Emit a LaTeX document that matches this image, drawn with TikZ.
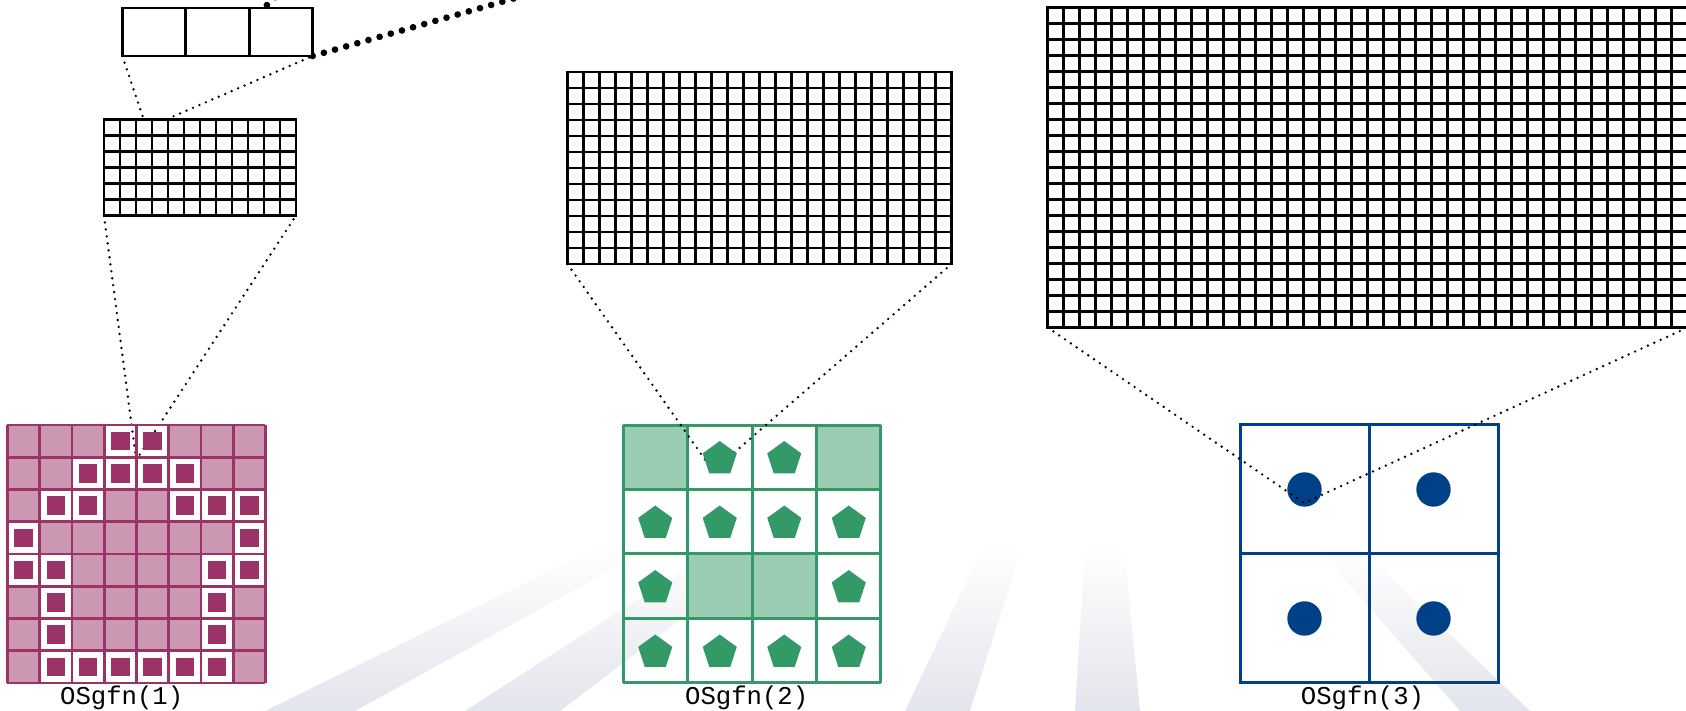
\documentclass[tikz,border=0pt]{standalone}
\usepackage{fontspec}
\setmonofont{Liberation Mono}
\usepackage{tikz}
\usetikzlibrary{shapes,arrows,positioning,calc,fadings}
\usepackage{xcolor}

\definecolor{plumdark}{HTML}{9B3366}
\definecolor{plumlight}{HTML}{CB97B2}
\definecolor{leafdark}{HTML}{339966}
\definecolor{leaflight}{HTML}{99CCB2}
\definecolor{oceanblue}{HTML}{004087}
\definecolor{streakgray}{HTML}{E3E5EC}

% cells of OSgfn(1) that are set (column/row from bottom)
\newcommand{\plumcells}{3/7,4/7,2/6,3/6,4/6,5/6,1/5,2/5,5/5,6/5,7/5,0/4,7/4,
  0/3,1/3,6/3,7/3,1/2,6/2,1/1,6/1,1/0,2/0,3/0,4/0,5/0,6/0}

\tikzset{
  frame/.style={inner sep=0pt, outer sep=0pt, anchor=south west},
  cellline/.style={line width=0.8pt},
  zoomline/.style={line width=0.75pt, dash pattern=on 0pt off 2pt, line cap=round},
  bigzoom/.style={line width=1.9pt, dash pattern=on 0pt off 3.3pt, line cap=round},
  penta/.style={regular polygon, regular polygon sides=5, fill=leafdark, inner sep=0pt, minimum size=0.358cm},
  osname/.style={font=\ttfamily\fontsize{7.3}{8}\selectfont, anchor=base, inner sep=0pt},
  streak/.style={fill=streakgray, path fading=north},
}

\begin{document}
\begin{tikzpicture}
            \useasboundingbox (0,0) rectangle (16.86,7.11);
            \clip (0,0) rectangle (16.86,7.11);

            % Frames
            \node[frame, minimum width=1.904cm, minimum height=0.48cm] (top) at (1.223,6.55) {};
            \node[frame, minimum width=1.92cm, minimum height=0.96cm] (gridA) at (1.04,4.955) {};
            \node[frame, minimum width=3.84cm, minimum height=1.92cm] (gridB) at (5.675,4.47) {};
            \node[frame, minimum width=6.40cm, minimum height=3.20cm] (gridC) at (10.476,3.835) {};
            \node[frame, minimum size=2.58cm] (os1) at (0.075,0.28) {};
            \node[frame, minimum size=2.58cm] (os2) at (6.23,0.28) {};
            \node[frame, minimum size=2.58cm] (os3) at (12.40,0.28) {};

            \coordinate (pA) at (1.466,5.83);
            \coordinate (p1) at (1.362,2.51);
            \coordinate (p2) at (7.13,2.40);
            \coordinate (p3) at (13.04,2.08);
            \coordinate (rT) at (2.50,6.90);
            \coordinate (qS) at (2.82,7.20);
            \coordinate (qT) at (5.40,7.20);

            % Background rays
            \coordinate (vp) at (11.0,4.11);
            \foreach \xa/\xb in {2.65/3.55, 4.65/5.6, 9.05/9.7, 10.75/11.4, 14.6/15.3}
              \fill[streak] ($(vp)!0.6!(\xa,0)$) -- (\xa,0) -- (\xb,0) -- ($(vp)!0.6!(\xb,0)$) -- cycle;

            % OSgfn(1) fill
            \fill[plumlight] (os1.south west) rectangle (os1.north east);
            \begin{scope}[shift={(os1.south west)}, scale=0.3225]
              \foreach \i/\j in \plumcells
                \fill[white] (\i,\j) rectangle ++(1,1);
            \end{scope}

            % OSgfn(2)
            \begin{scope}[shift={(os2.south west)}, scale=0.645]
              \foreach \i/\j in {0/3,3/3,1/1,2/1}
                \fill[leaflight] (\i,\j) rectangle ++(1,1);
              \draw[leafdark, line width=0.85pt] (0,0) grid (4,4);
            \end{scope}

            % OSgfn(3)
            \draw[oceanblue, line width=0.85pt] (os3.south west) rectangle (os3.north east)
              (os3.north) -- (os3.south) (os3.west) -- (os3.east);
            \foreach \i in {0,1}
              \foreach \j in {0,1}
                \fill[oceanblue] ($(os3.south west)+(0.645+1.29*\i,0.645+1.29*\j)$) circle (0.172);

            % Zoom lines
            \draw[zoomline] (top.south west) -- (pA) -- (top.south east);
            \draw[zoomline] (gridA.south west) -- (p1) -- (gridA.south east);
            \draw[zoomline] (gridB.south west) -- (p2) -- (gridB.south east);
            \draw[zoomline] (gridC.south west) -- (p3) -- (gridC.south east);
            \draw[bigzoom] (top.south east) -- (qT);
            \draw[bigzoom] (rT) -- (qS);

            % Upper grids
            \fill[white] (top.south west) rectangle (top.north east);
            \draw[cellline] (top.south west) rectangle (top.north east);
            \foreach \k in {1,2}
              \draw[cellline] ($(top.south west)!\k/3!(top.south east)$) -- ($(top.north west)!\k/3!(top.north east)$);
            \foreach \g/\w/\h in {gridA/1.92/0.96, gridB/3.84/1.92, gridC/6.40/3.20}
            {
              \begin{scope}[shift={(\g.south west)}]
                \fill[white] (0,0) rectangle (\w,\h);
                \draw[cellline, step=0.16] (0,0) grid (\w,\h);
                \draw[cellline] (0,0) rectangle (\w,\h);
              \end{scope}
            }

            % OSgfn(1) lines and squares
            \begin{scope}[shift={(os1.south west)}, scale=0.3225]
              \draw[plumdark, line width=0.78pt] (0,0) grid (8,8);
              \foreach \i/\j in \plumcells
                \fill[plumdark] (\i+0.5,\j+0.5) +(-0.29,-0.29) rectangle +(0.29,0.29);
            \end{scope}

            % OSgfn(2) pentagons
            \foreach \i/\j in {1/3,2/3,0/2,1/2,2/2,3/2,0/1,3/1,0/0,1/0,2/0,3/0}
              \node[penta] (pg-\i-\j) at ($(os2.south west)+(0.645*\i+0.3225,0.645*\j+0.3055)$) {};

            % Names
            \node[osname] (name1) at (1.217,0.065) {OSgfn(1)};
            \node[osname] (name2) at (7.467,0.065) {OSgfn(2)};
            \node[osname] (name3) at (13.625,0.065) {OSgfn(3)};
        \end{tikzpicture}
\end{document}
